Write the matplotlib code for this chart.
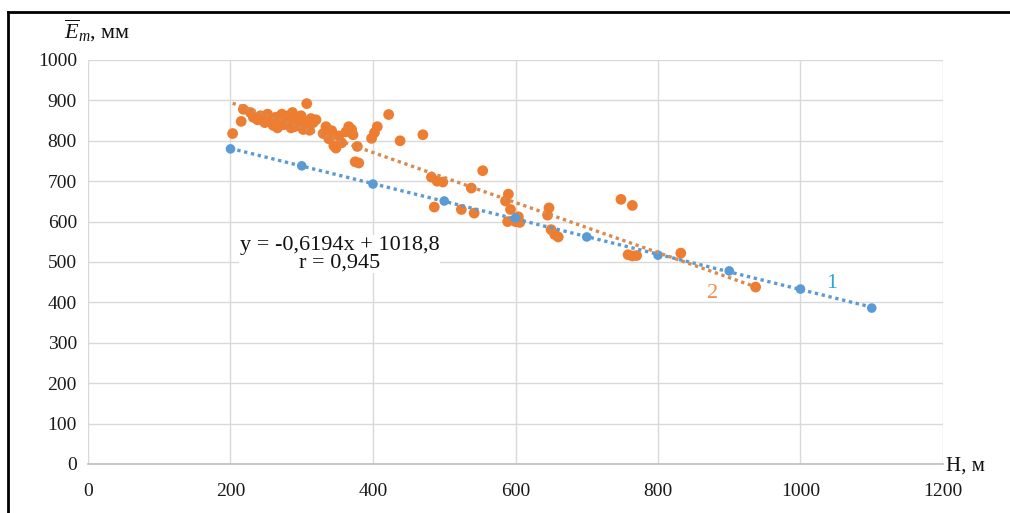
import numpy as np
import matplotlib
matplotlib.use("Agg")
import matplotlib.pyplot as plt
from matplotlib.lines import Line2D

plt.rcParams["font.family"] = ["Liberation Serif", "DejaVu Serif"]
plt.rcParams["mathtext.fontset"] = "custom"
plt.rcParams["mathtext.rm"] = "Liberation Serif"
plt.rcParams["mathtext.it"] = "Liberation Serif:italic"

# Series 1: regular altitude steps
h1 = [200, 300, 400, 500, 600, 700, 800, 900, 1000, 1100]
e1 = [780, 738, 693, 651, 609, 562, 517, 478, 433, 386]

# Series 2: station observations
h2 = [203, 215, 218, 228, 232, 238, 242, 248, 252, 256, 260, 263, 268, 272,
      275, 279, 283, 287, 290, 293, 296, 299, 302, 305, 307, 310, 313, 316,
      320, 246, 258, 266, 281, 292, 301, 311, 270, 285,
      330, 334, 338, 342, 345, 348, 352, 356, 362, 366, 370, 372, 375,
      378, 380, 398, 402, 406, 422, 438, 470, 482, 490, 486, 498, 524, 538,
      542, 554, 586, 590, 593, 589, 600, 604, 606, 645, 647, 650, 655, 660,
      748, 764, 758, 764, 770, 832, 937]
e2 = [818, 848, 878, 870, 858, 852, 862, 845, 866, 850, 838, 858, 848, 866,
      840, 855, 848, 870, 835, 852, 842, 862, 828, 848, 892, 838, 855, 845,
      852, 856, 844, 832, 862, 846, 840, 826, 855, 832,
      818, 835, 805, 825, 788, 782, 812, 795, 822, 835, 828, 815, 748,
      786, 745, 806, 820, 835, 865, 800, 815, 710, 700, 636, 698, 630, 683,
      621, 726, 651, 668, 630, 600, 600, 612, 598, 616, 634, 580, 568, 562,
      655, 640, 518, 515, 516, 522, 438]

# Linear trend for series 2
slope2 = -0.6194
intercept2 = 1018.8
r2 = 0.945

x_ticks = [0, 200, 400, 600, 800, 1000, 1200]
y_ticks = [0, 100, 200, 300, 400, 500, 600, 700, 800, 900, 1000]

blue = "#5B9BD5"
orange = "#ED7D31"

fig = plt.figure(figsize=(10.10, 5.13), dpi=100)
ax = fig.add_axes([88 / 1010, 1 - 464 / 513, (943 - 88) / 1010, (464 - 60) / 513])

ax.set_xlim(0, 1200)
ax.set_ylim(0, 1000)
ax.set_xticks(x_ticks)
ax.set_yticks(y_ticks)
ax.grid(True, color="#D9D9D9", linewidth=1.0, zorder=0)
ax.set_axisbelow(True)
for side in ["left", "right", "top"]:
    ax.spines[side].set_visible(False)
ax.spines["bottom"].set_color("#BFBFBF")
ax.spines["bottom"].set_linewidth(1.2)
ax.tick_params(length=0, labelsize=14, colors="#1A1A1A")
ax.tick_params(axis="x", pad=14)
ax.tick_params(axis="y", pad=8)

ax.scatter(h2, e2, s=60, color=orange, edgecolors="none", zorder=3)
ax.scatter(h1, e1, s=48, color=blue, edgecolors="none", zorder=4)

# Trend lines
xs1 = np.array([min(h1), max(h1)])
k1, b1 = np.polyfit(h1, e1, 1)
ax.plot(xs1, k1 * xs1 + b1, color=blue, linewidth=2.4,
        linestyle=(0, (1, 1.1)), zorder=5)
xs2 = np.array([min(h2), max(h2)])
ax.plot(xs2, slope2 * xs2 + intercept2, color="#D98A4E", linewidth=2.4,
        linestyle=(0, (1, 1.1)), zorder=5)

eq = f"y = {slope2:.4f}x + {intercept2:.1f}".replace(".", ",") + \
     f"\nr = {r2:.3f}".replace(".", ",")
ax.text(353, 520, eq, ha="center", va="center", fontsize=16,
        linespacing=0.9, color="#111111", zorder=6,
        bbox=dict(facecolor="white", edgecolor="none", pad=0.3))

ax.text(1044, 448, "1", color="#2EA3D8", fontsize=16, ha="center",
        va="center", zorder=6)
ax.text(876, 423, "2", color="#ED8E50", fontsize=16, ha="center",
        va="center", zorder=6)

fig.text(946 / 1010, 1 - 466 / 513, "H, м", fontsize=15, ha="left",
         va="center", color="#111111")
fig.text(64 / 1010, 1 - 31 / 513, r"$\overline{E}_{m}$, мм", fontsize=16,
         ha="left", va="center", color="#111111")

# Outer frame
fig.add_artist(Line2D([8 / 1010, 8 / 1010], [0, 1 - 12 / 513],
                      color="black", linewidth=2.0, transform=fig.transFigure))
fig.add_artist(Line2D([8 / 1010, 1], [1 - 12 / 513, 1 - 12 / 513],
                      color="black", linewidth=2.0, transform=fig.transFigure))

fig.savefig("out.png", dpi=100)
